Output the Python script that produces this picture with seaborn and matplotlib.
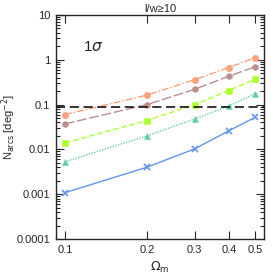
import numpy as np
import pandas as pd
import matplotlib
matplotlib.use("Agg")
import matplotlib.pyplot as plt
import matplotlib.ticker as mticker
import seaborn as sns

omega_m = [0.1, 0.2, 0.3, 0.4, 0.5]
n_orange = [0.060, 0.163, 0.36, 0.67, 1.12]
n_brown = [0.037, 0.100, 0.22, 0.43, 0.70]
n_green = [0.014, 0.044, 0.100, 0.205, 0.37]
n_teal = [0.0053, 0.020, 0.048, 0.093, 0.175]
n_blue = [0.00108, 0.0040, 0.0103, 0.026, 0.052]
threshold = 0.089

series = [
    (n_orange, '#FFA07A', 'o', (0, (5, 1.5, 1, 1.5))),
    (n_brown, '#BC8F8F', 'h', (0, (7, 2))),
    (n_green, '#ADFF2F', 's', (0, (4, 2))),
    (n_teal, '#66CDAA', '^', (0, (1, 1))),
    (n_blue, '#6495ED', 'x', '-'),
]

sns.set_style("ticks")
plt.rcParams['font.family'] = ['Liberation Sans', 'DejaVu Sans']
plt.rcParams['mathtext.fontset'] = 'dejavusans'

fig = plt.figure(figsize=(2.79, 2.79), dpi=100)
ax = fig.add_axes([56 / 279, 1 - 239 / 279, 208 / 279, 224 / 279])

for vals, col, mk, ls in series:
    df = pd.DataFrame({'om': omega_m, 'n': vals})
    sns.lineplot(data=df, x='om', y='n', ax=ax, color=col, linestyle=ls,
                 linewidth=1.0, marker=mk, markersize=4.6 if mk != 'x' else 4.2,
                 markeredgecolor=col, markeredgewidth=1.2 if mk == 'x' else 0.4)

ax.axhline(threshold, color='black', linestyle=(0, (6, 3)), linewidth=1.1)

ax.set_xscale('log')
ax.set_yscale('log')
ax.set_xlim(0.0927, 0.539)
ax.set_ylim(1e-4, 10)

ax.xaxis.set_major_locator(mticker.FixedLocator(omega_m))
ax.xaxis.set_major_formatter(mticker.FixedFormatter(['0.1', '0.2', '0.3', '0.4', '0.5']))
ax.xaxis.set_minor_locator(mticker.NullLocator())
ax.yaxis.set_major_locator(mticker.FixedLocator([1e-4, 1e-3, 1e-2, 0.1, 1, 10]))
ax.yaxis.set_major_formatter(mticker.FixedFormatter(['0.0001', '0.001', '0.01', '0.1', '1', '10']))
ax.yaxis.set_minor_locator(mticker.LogLocator(base=10, subs=np.arange(2, 10)))
ax.yaxis.set_minor_formatter(mticker.NullFormatter())

ax.tick_params(which='both', direction='in', top=True, right=True, labelsize=8, width=0.8)
ax.tick_params(which='major', length=6, pad=4)
ax.tick_params(which='minor', length=3)
for s in ax.spines.values():
    s.set_linewidth(1.0)

ax.set_xlabel(r'$\Omega_{\rm m}$', fontsize=9, labelpad=4)
ax.set_ylabel(r'N$_{\rm arcs}$ [deg$^{-2}$]', fontsize=8)
ax.yaxis.set_label_coords(-0.185, 0.5)
ax.set_title('l/w≥10', fontsize=8, pad=2)
ax.text(0.13, 0.84, r'1$\sigma$', transform=ax.transAxes, fontsize=11)

fig.savefig('out.png', dpi=100)
